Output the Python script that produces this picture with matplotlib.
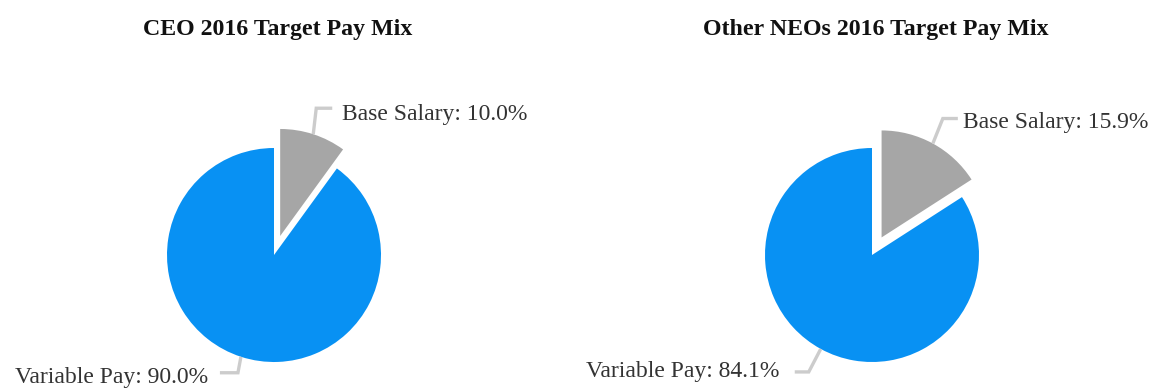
import math
import matplotlib
matplotlib.use("Agg")
import matplotlib.pyplot as plt

# Pay mix data
titles = ["CEO 2016 Target Pay Mix", "Other NEOs 2016 Target Pay Mix"]
categories = ["Base Salary", "Variable Pay"]
ceo_mix = [10.0, 90.0]
neo_mix = [15.9, 84.1]
colors = ["#a6a6a6", "#0891f3"]

W, H = 1153, 392
plt.rcParams["font.family"] = ["Liberation Serif", "DejaVu Serif"]
fig = plt.figure(figsize=(W / 100, H / 100), dpi=100)
ax = fig.add_axes([0, 0, 1, 1])

R = 107
EXPLODE = 20
LINE_C = "#cccccc"
TXT_C = "#333333"

panels = [
    dict(values=ceo_mix, title=titles[0], cx=274, cy=H - 255, tx=278,
         base_leader=[(0, 0), (3, 26), (19, 26)], base_text=(342, 120),
         var_leader=[(0, 0), (-3, -16), (-21, -16)], var_text=(208, 383)),
    dict(values=neo_mix, title=titles[1], cx=872, cy=H - 255, tx=875.5,
         base_leader=[(0, 0), (10, 25), (25, 25)], base_text=(963, 128),
         var_leader=[(0, 0), (-12, -23), (-26, -23)], var_text=(779, 377)),
]

for p in panels:
    vals = p["values"]
    ax.pie(vals, colors=colors, radius=R, center=(p["cx"], p["cy"]),
           startangle=90, counterclock=False,
           explode=[EXPLODE, 0], frame=True,
           wedgeprops=dict(linewidth=0))
    ax.text(p["tx"], H - 35, p["title"], ha="center", va="baseline",
            fontsize=17.2, fontweight="bold", color="#111111")

    # leader lines and labels
    start = 90.0
    for i, (v, cat) in enumerate(zip(vals, categories)):
        span = 360.0 * v / sum(vals)
        mid = math.radians(start - span / 2)
        start -= span
        off = EXPLODE if i == 0 else 0
        ex = p["cx"] + (R + off) * math.cos(mid)
        ey = p["cy"] + (R + off) * math.sin(mid)
        pts = p["base_leader"] if i == 0 else p["var_leader"]
        xs = [ex + dx for dx, dy in pts]
        ys = [ey + dy for dx, dy in pts]
        ax.plot(xs, ys, color=LINE_C, lw=2.4, solid_capstyle="butt",
                solid_joinstyle="miter")
        tx, ty = p["base_text"] if i == 0 else p["var_text"]
        ax.text(tx, H - ty, f"{cat}: {v:.1f}%", ha="left" if i == 0 else "right",
                va="baseline", fontsize=17, color=TXT_C)

ax.set_xlim(0, W)
ax.set_ylim(0, H)
ax.set_aspect("equal")
ax.axis("off")
fig.savefig("out.png", dpi=100, facecolor="white")
